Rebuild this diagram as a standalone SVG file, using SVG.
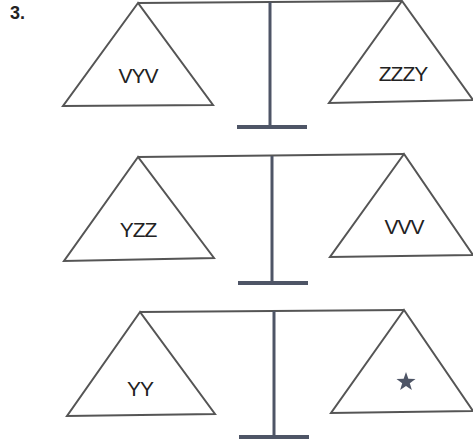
<svg xmlns="http://www.w3.org/2000/svg" width="473" height="444" viewBox="0 0 473 444">
<style>
.pan{fill:#fff;stroke:#555;stroke-width:2;stroke-linejoin:miter}
.beam{stroke:#555;stroke-width:2;fill:none}
.stem{stroke:#4e5566;stroke-width:3}
.foot{stroke:#4e5566;stroke-width:4}
.lbl{font-family:"Liberation Sans",Arial,sans-serif;font-size:21px;fill:#222;text-anchor:middle;letter-spacing:-1px}
.num{font-family:"Liberation Sans",Arial,sans-serif;font-size:18px;font-weight:bold;fill:#222}
</style>
<rect width="473" height="444" fill="#fff"/>
<text class="num" x="10" y="19">3.</text>
<g id="connectors">
<line class="beam" x1="138" y1="3" x2="402" y2="1"/>
<line class="stem" x1="270" y1="2" x2="270" y2="127"/>
<line class="foot" x1="237" y1="127" x2="307" y2="127"/>
<line class="beam" x1="138" y1="157" x2="404" y2="154"/>
<line class="stem" x1="272" y1="156" x2="272" y2="283"/>
<line class="foot" x1="238" y1="283" x2="308" y2="283"/>
<line class="beam" x1="140" y1="312" x2="404" y2="310"/>
<line class="stem" x1="274" y1="311" x2="274" y2="437"/>
<line class="foot" x1="239" y1="437" x2="309" y2="437"/>
</g>
<g id="pan1L"><polygon class="pan" points="138,3 63,106 213,105"/><text class="lbl" x="138" y="83">VYV</text></g>
<g id="pan1R"><polygon class="pan" points="402,1 329,103 473,100"/><text class="lbl" x="403" y="81">ZZZY</text></g>
<g id="pan2L"><polygon class="pan" points="138,157 64,261 214,258"/><text class="lbl" x="138" y="237">YZZ</text></g>
<g id="pan2R"><polygon class="pan" points="404,154 330,257 473,255"/><text class="lbl" x="404" y="234">VVV</text></g>
<g id="pan3L"><polygon class="pan" points="140,312 67,416 215,414"/><text class="lbl" x="140" y="396">YY</text></g>
<g id="pan3R"><polygon class="pan" points="404,310 331,413 473,411"/>
<polygon fill="#4e5566" points="406,372 408.35,378.76 415.51,378.91 409.8,383.24 411.88,390.09 406,386 400.12,390.09 402.2,383.24 396.49,378.91 403.65,378.76"/></g>
</svg>
